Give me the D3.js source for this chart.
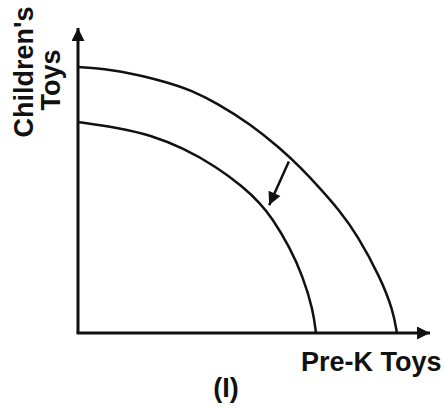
<!DOCTYPE html>
<html>
<head>
<meta charset="utf-8">
<script src="https://cdn.jsdelivr.net/npm/d3@7"></script>
<style>
  body { margin: 0; background: #fff; }
  text { font-family: "Liberation Sans", Arial, sans-serif; font-weight: bold; fill: #111; }
</style>
</head>
<body>
<script>
var width = 444,
    height = 408;

// original production possibilities frontier (x = Pre-K Toys, y = Children's Toys)
var outerX = [0, 11.9, 26.1, 31.8, 39.5, 48.9, 57.4, 63.1, 68.8, 74.4, 79.3, 85.8, 89.5, 90.6];
var outerY = [87.2, 86.2, 82.0, 79.7, 75.4, 68.5, 60.6, 54.4, 47.4, 40.0, 32.2, 18.4, 7.5, 0];

// shifted-in frontier
var innerX = [0, 11.9, 20.5, 29.8, 39.5, 46.9, 51.7, 55.1, 60.2, 63.9, 66.8, 67.6];
var innerY = [69.2, 67.2, 64.9, 60.7, 54.4, 47.9, 42.6, 37.8, 28.0, 18.5, 7.5, 0];

// shift arrow: from, to
var arrowX = [59.9, 54.3];
var arrowY = [56.2, 41.9];

var xLabel = "Pre-K Toys",
    yLabel = ["Children's", "Toys"],
    caption = "(I)";

var x = d3.scaleLinear().domain([0, 100]).range([78, 430]);
var y = d3.scaleLinear().domain([0, 100]).range([333, 28]);

var svg = d3.select("body").append("svg")
    .attr("width", width)
    .attr("height", height);

var defs = svg.append("defs");

function marker(id, w, h) {
  defs.append("marker")
      .attr("id", id)
      .attr("viewBox", "0 0 10 10")
      .attr("refX", 10)
      .attr("refY", 5)
      .attr("markerWidth", w)
      .attr("markerHeight", h)
      .attr("markerUnits", "userSpaceOnUse")
      .attr("orient", "auto")
    .append("path")
      .attr("d", "M0,0L10,5L0,10Z")
      .attr("fill", "#111");
}
marker("head", 14, 13);
marker("small", 15, 13);

// axes
svg.append("line")
    .attr("x1", x(0)).attr("y1", y(0))
    .attr("x2", x(0)).attr("y2", y(100))
    .attr("stroke", "#111")
    .attr("stroke-width", 3)
    .attr("marker-end", "url(#head)");

svg.append("line")
    .attr("x1", x(0) - 1.5).attr("y1", y(0))
    .attr("x2", x(100)).attr("y2", y(0))
    .attr("stroke", "#111")
    .attr("stroke-width", 3)
    .attr("marker-end", "url(#head)");

// basis curve smooths out small reading errors in the points
var line = d3.line()
    .x(function(d) { return x(d[0]); })
    .y(function(d) { return y(d[1]); })
    .curve(d3.curveBasis);

var curves = [d3.zip(outerX, outerY), d3.zip(innerX, innerY)];

svg.selectAll(".ppf")
    .data(curves)
  .enter().append("path")
    .attr("class", "ppf")
    .attr("d", line)
    .attr("fill", "none")
    .attr("stroke", "#111")
    .attr("stroke-width", 2.5);

svg.append("line")
    .attr("x1", x(arrowX[0])).attr("y1", y(arrowY[0]))
    .attr("x2", x(arrowX[1])).attr("y2", y(arrowY[1]))
    .attr("stroke", "#111")
    .attr("stroke-width", 2.5)
    .attr("marker-end", "url(#small)");

// labels
svg.selectAll(".ylab")
    .data(yLabel)
  .enter().append("text")
    .attr("class", "ylab")
    .attr("text-anchor", "middle")
    .attr("font-size", 27)
    .attr("transform", function(d, i) {
      return "translate(" + (33 + i * 27) + "," + (i ? 80 : 72) + ")rotate(-90)";
    })
    .text(function(d) { return d; });

svg.append("text")
    .attr("x", 301)
    .attr("y", 371)
    .attr("font-size", 27)
    .text(xLabel);

svg.append("text")
    .attr("x", 226)
    .attr("y", 397)
    .attr("text-anchor", "middle")
    .attr("font-size", 27)
    .text(caption);
</script>
</body>
</html>
